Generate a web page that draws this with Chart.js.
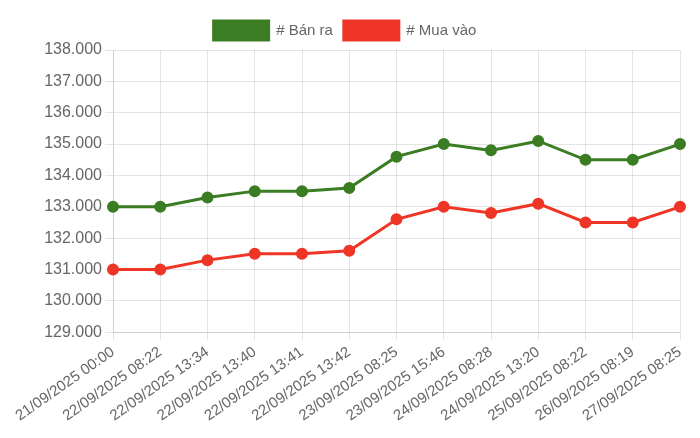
<!DOCTYPE html>
<html>
<head>
<meta charset="utf-8">
<script src="https://cdn.jsdelivr.net/npm/chart.js@4"></script>
<style>
html,body{margin:0;padding:0;background:#fff;}
#wrap{width:700px;height:438px;position:relative;}
</style>
</head>
<body>
<div id="wrap"><canvas id="c"></canvas></div>
<script>
const categories = ["21/09/2025 00:00","22/09/2025 08:22","22/09/2025 13:34","22/09/2025 13:40","22/09/2025 13:41","22/09/2025 13:42","23/09/2025 08:25","23/09/2025 15:46","24/09/2025 08:28","24/09/2025 13:20","25/09/2025 08:22","26/09/2025 08:19","27/09/2025 08:25"];
const banRa = [133000,133000,133300,133500,133500,133600,134600,135000,134800,135100,134500,134500,135000];
const muaVao = [131000,131000,131300,131500,131500,131600,132600,133000,132800,133100,132500,132500,133000];
const seriesNames = ["# Bán ra","# Mua vào"];

function fmt(v){
  return String(Math.round(v)).replace(/\B(?=(\d{3})+(?!\d))/g, ".");
}
Chart.defaults.font.family = "'Liberation Sans', Arial, Helvetica, sans-serif";
Chart.defaults.color = "#666";
new Chart(document.getElementById('c'), {
  type: 'line',
  data: {
    labels: categories,
    datasets: [
      {label: seriesNames[0], data: banRa, borderColor: '#3a7d22', backgroundColor: '#3a7d22', borderWidth: 3, pointRadius: 4.5, pointHoverRadius: 5, tension: 0, fill: false},
      {label: seriesNames[1], data: muaVao, borderColor: '#ee3526', backgroundColor: '#ee3526', borderWidth: 3, pointRadius: 4.5, pointHoverRadius: 5, tension: 0, fill: false}
    ]
  },
  options: {
    responsive: true,
    maintainAspectRatio: false,
    animation: false,
    layout: {padding: {left: 10, right: 20, top: 10, bottom: 10}},
    plugins: {
      legend: {
        labels: {boxWidth: 55, boxHeight: 19, font: {size: 15}, color: '#666', padding: 11}
      },
      tooltip: {enabled: false}
    },
    scales: {
      y: {
        min: 129000, max: 138000,
        afterFit: s => { s.width = 103; },
        ticks: {stepSize: 1000, font: {size: 16}, color: '#666', callback: v => fmt(v)},
        grid: {color: 'rgba(0,0,0,0.1)'}
      },
      x: {
        ticks: {font: {size: 15}, color: '#666', autoSkip: false, minRotation: 35, maxRotation: 35},
        grid: {color: 'rgba(0,0,0,0.1)'}
      }
    }
  }
});
</script>
</body>
</html>
